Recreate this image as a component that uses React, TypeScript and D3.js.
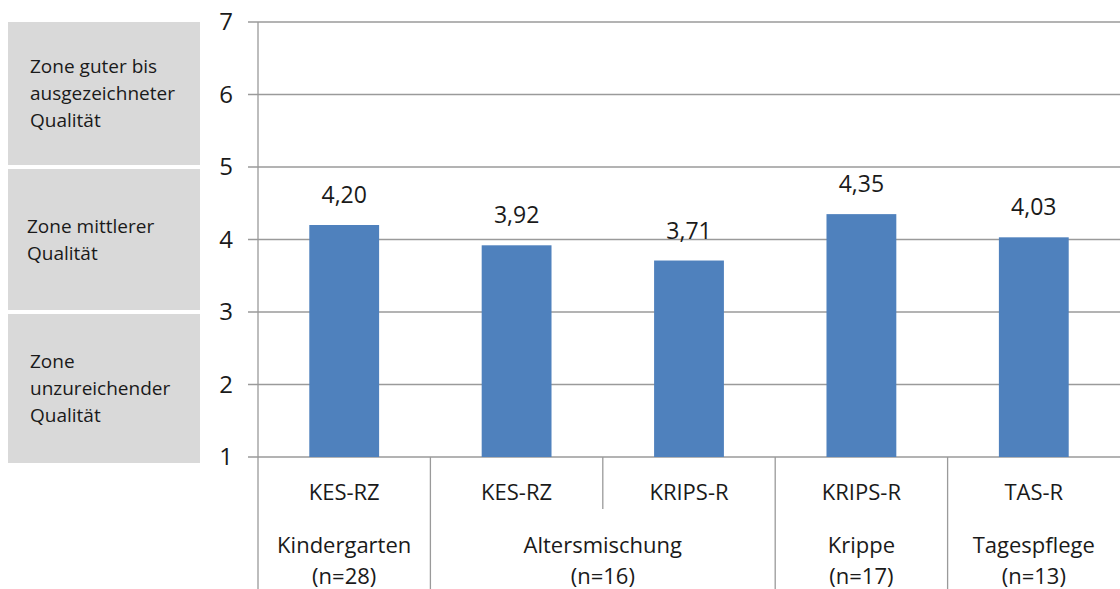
import React from "react";
import * as d3 from "d3";

const instruments = ["KES-RZ", "KES-RZ", "KRIPS-R", "KRIPS-R", "TAS-R"];
const scores = [4.2, 3.92, 3.71, 4.35, 4.03];
const groups = [
  { name: "Kindergarten", n: "(n=28)", span: 1 },
  { name: "Altersmischung", n: "(n=16)", span: 2 },
  { name: "Krippe", n: "(n=17)", span: 1 },
  { name: "Tagespflege", n: "(n=13)", span: 1 },
];
const yTicks = [1, 2, 3, 4, 5, 6, 7];
const zones = [
  { lines: ["Zone guter bis", "ausgezeichneter", "Qualität"], from: 7, to: 5 },
  { lines: ["Zone mittlerer", "Qualität"], from: 5, to: 3 },
  { lines: ["Zone", "unzureichender", "Qualität"], from: 3, to: 1 },
];

const W = 1120;
const H = 589;
const left = 258;
const right = 1120;
const font = "'Open Sans', sans-serif";

export default function App() {
  const y = d3.scaleLinear().domain([1, 7]).range([457, 22]);
  const x = d3
    .scaleBand<number>()
    .domain(d3.range(scores.length))
    .range([left, right])
    .paddingInner(0.595)
    .paddingOuter(0.2975);
  const slot = (right - left) / scores.length;
  const fmt = (v: number) => v.toFixed(2).replace(".", ",");

  let acc = 0;
  const groupPos = groups.map((g) => {
    const start = acc;
    acc += g.span;
    return { ...g, start, end: acc };
  });

  return (
    <svg
      width={W}
      height={H}
      style={{ position: "absolute", left: 0, top: 0, fontFamily: font }}
    >
      <rect width={W} height={H} fill="#fff" />
      {zones.map((z, i) => {
        const y0 = y(z.from) + (i === 0 ? 0 : 2);
        const y1 = y(z.to) - (i === 2 ? -6 : 2);
        const mid = (y0 + y1) / 2;
        return (
          <g key={i}>
            <rect x={8} y={y0} width={192} height={y1 - y0} fill="#d9d9d9" />
            {z.lines.map((l, j) => (
              <text
                key={j}
                x={i === 1 ? 27 : 30}
                y={mid + (j - (z.lines.length - 1) / 2) * 27}
                dy="0.35em"
                fontSize={19}
                fill="#1a1a1a"
              >
                {l}
              </text>
            ))}
          </g>
        );
      })}
      {yTicks.map((t) => (
        <g key={t}>
          <line x1={248} x2={right} y1={y(t)} y2={y(t)} stroke="#9a9a9a" strokeWidth={1.3} />
          <text x={233} y={y(t)} dy="0.35em" textAnchor="end" fontSize={24} fill="#1a1a1a">
            {t}
          </text>
        </g>
      ))}
      <line x1={left} x2={left} y1={y(7)} y2={H} stroke="#9a9a9a" strokeWidth={1.3} />
      {scores.map((v, i) => (
        <g key={i}>
          <rect
            x={x(i)}
            y={y(v)}
            width={x.bandwidth()}
            height={y(1) - y(v)}
            fill="#4f81bd"
          />
          <text
            x={(x(i) ?? 0) + x.bandwidth() / 2}
            y={y(v) - 22}
            textAnchor="middle"
            fontSize={23}
            fill="#1a1a1a"
          >
            {fmt(v)}
          </text>
          <text
            x={left + slot * (i + 0.5)}
            y={492}
            dy="0.35em"
            textAnchor="middle"
            fontSize={22}
            fill="#1a1a1a"
          >
            {instruments[i]}
          </text>
        </g>
      ))}
      {groupPos.map((g, i) => (
        <g key={i}>
          {g.span > 1 &&
            d3.range(g.start + 1, g.end).map((k) => (
              <line
                key={k}
                x1={left + slot * k}
                x2={left + slot * k}
                y1={y(1)}
                y2={509}
                stroke="#9a9a9a"
                strokeWidth={1.3}
              />
            ))}
          {i > 0 && (
            <line
              x1={left + slot * g.start}
              x2={left + slot * g.start}
              y1={y(1)}
              y2={H}
              stroke="#9a9a9a"
              strokeWidth={1.3}
            />
          )}
          <text
            x={left + slot * (g.start + g.end) / 2}
            y={545}
            dy="0.35em"
            textAnchor="middle"
            fontSize={22}
            fill="#1a1a1a"
          >
            {g.name}
          </text>
          <text
            x={left + slot * (g.start + g.end) / 2}
            y={576}
            dy="0.35em"
            textAnchor="middle"
            fontSize={22}
            fill="#1a1a1a"
          >
            {g.n}
          </text>
        </g>
      ))}
    </svg>
  );
}
